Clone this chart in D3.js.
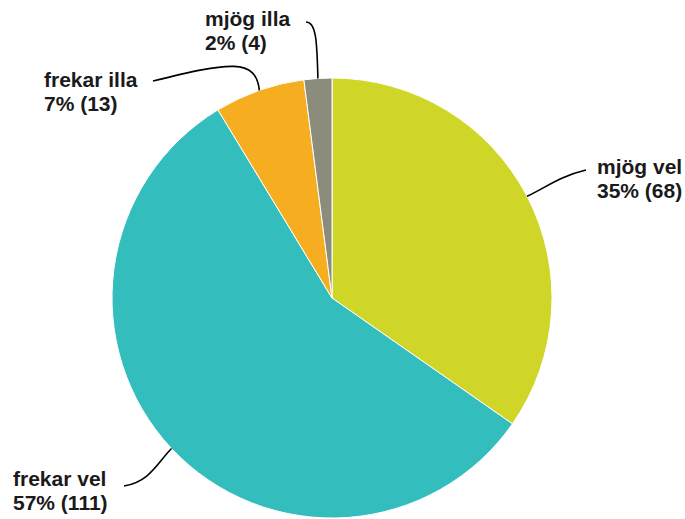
<!DOCTYPE html>
<html>
<head>
<meta charset="utf-8">
<script src="https://cdn.jsdelivr.net/npm/d3@7"></script>
<style>
  body { margin: 0; background: #fff; }
  svg { display: block; }
</style>
</head>
<body>
<script>
// chart data
var categories = ["mjög vel", "frekar vel", "frekar illa", "mjög illa"];
var counts = [68, 111, 13, 4];
var percents = ["35%", "57%", "7%", "2%"];
var colors = ["#cfd628", "#33bdbd", "#f6ad1f", "#8c8c7c"];

// label placement (layout only)
var labelPos = [
    { x: 597, y: 174, end: [586, 170], c1: [560, 176], c2: [545, 188] },
    { x: 13,  y: 486, end: [124, 486], c1: [150, 482], c2: [158, 462] },
    { x: 44,  y: 87,  end: [153, 81],  c1: [230, 62],  c2: [256, 58] },
    { x: 205, y: 26,  end: [306, 22],  c1: [316, 22],  c2: [317, 40] }
];

var width = 685, height = 519;
var cx = 332, cy = 298, radius = 220;

var svg = d3.select("body").append("svg")
    .attr("width", width)
    .attr("height", height);

var pie = d3.pie().sort(null).value(function (d) { return d; });
var arcs = pie(counts);

var arc = d3.arc().innerRadius(0).outerRadius(radius);

var g = svg.append("g").attr("transform", "translate(" + cx + "," + cy + ")");

g.selectAll("path.slice")
    .data(arcs)
    .enter()
    .append("path")
    .attr("class", "slice")
    .attr("d", arc)
    .style("fill", function (d, i) { return colors[i]; })
    .style("stroke", "#ffffff")
    .style("stroke-width", 1);

// leader lines from slice edge to the label
arcs.forEach(function (d, i) {
    var mid = (d.startAngle + d.endAngle) / 2;
    var sx = cx + radius * Math.sin(mid);
    var sy = cy - radius * Math.cos(mid);
    var p = labelPos[i];
    var path = d3.path();
    path.moveTo(sx, sy);
    if (i == 2 || i == 3) {
        // these go outward first, then bend towards the label
        path.bezierCurveTo(p.c2[0], p.c2[1], p.c1[0], p.c1[1], p.end[0], p.end[1]);
    } else {
        path.bezierCurveTo(p.c2[0], p.c2[1], p.c1[0], p.c1[1], p.end[0], p.end[1]);
    }
    svg.append("path")
        .attr("d", path.toString())
        .style("fill", "none")
        .style("stroke", "#000")
        .style("stroke-width", 1.6);
});

// labels
categories.forEach(function (name, i) {
    var p = labelPos[i];
    var t = svg.append("text")
        .attr("x", p.x)
        .attr("y", p.y)
        .style("font-family", "Liberation Sans, Arial, sans-serif")
        .style("font-weight", "bold")
        .style("font-size", "21px")
        .style("fill", "#1a1a1a");
    t.append("tspan").attr("x", p.x).text(name);
    t.append("tspan").attr("x", p.x).attr("dy", 24)
        .text(percents[i] + " (" + counts[i] + ")");
});
</script>
</body>
</html>
